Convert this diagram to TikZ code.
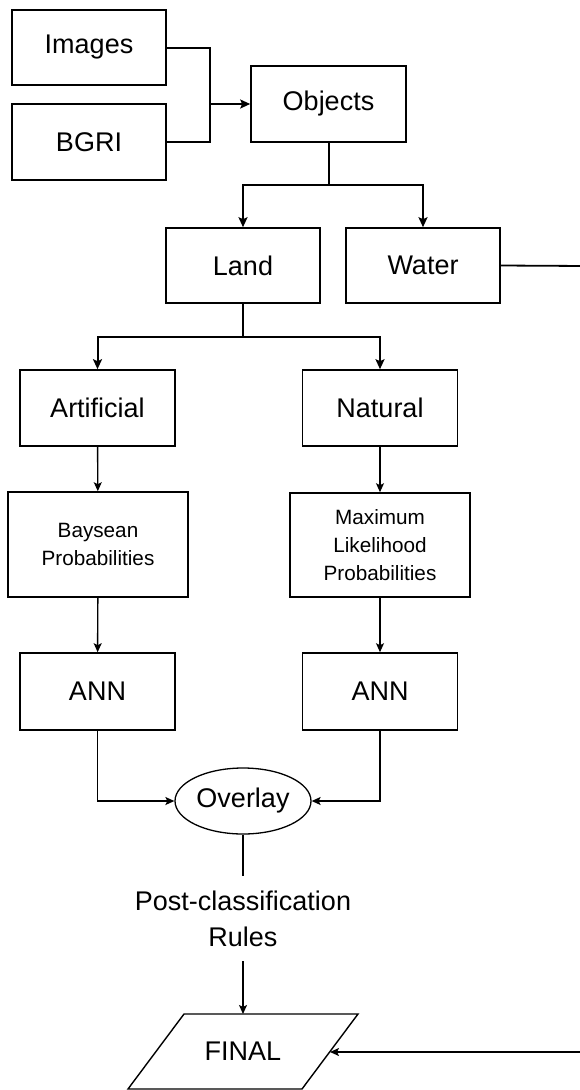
\documentclass[tikz,border=0pt]{standalone}
\usepackage{fontspec}
\setmainfont{Liberation Sans}
\usetikzlibrary{arrows.meta,shapes.geometric}
\begin{document}
\begin{tikzpicture}[x=1pt,y=-1pt,
  box/.style={draw,line width=1.6pt,rectangle,inner sep=0pt,font=\fontsize{27}{32}\selectfont},
  smallbox/.style={draw,line width=1.6pt,rectangle,inner sep=0pt,align=center,font=\fontsize{20.7}{28}\selectfont},
  conn/.style={line width=2pt},
  arr/.style={line width=2pt,-{Stealth[length=10pt,width=9pt,inset=2pt]}},
  arrthin/.style={line width=1.4pt,-{Stealth[length=9pt,width=8pt,inset=2pt]}}]
\useasboundingbox (0,0) rectangle (579,1090);
\fill[white] (0,0) rectangle (579,1090);
% top boxes
\node[box,minimum width=154pt,minimum height=75pt] (images) at (89,47.5) {Images};
\node[box,minimum width=154pt,minimum height=76pt] (bgri) at (89,142) {BGRI};
\node[box,minimum width=155pt,minimum height=76pt] (objects) at (328.5,104) {Objects};
\node[box,minimum width=154pt,minimum height=75pt] (land) at (243,265.5) {Land};
\node[box,minimum width=154pt,minimum height=75pt] (water) at (423,265.5) {Water};
\node[box,minimum width=155pt,minimum height=76pt] (artificial) at (97.5,408) {Artificial};
\node[box,minimum width=155pt,minimum height=76pt] (natural) at (380,408) {Natural};
\node[smallbox,minimum width=180pt,minimum height=105pt] (baysean) at (98,544.5) {Baysean\\Probabilities};
\node[smallbox,minimum width=180pt,minimum height=104pt] (maxlik) at (380,545) {Maximum\\Likelihood\\Probabilities};
\node[box,minimum width=155pt,minimum height=77pt] (ann1) at (97.5,691.5) {ANN};
\node[box,minimum width=155pt,minimum height=77pt] (ann2) at (380,691.5) {ANN};
\node[draw,ellipse,line width=1.3pt,inner sep=0pt,minimum width=136pt,minimum height=66pt,font=\fontsize{27}{32}\selectfont] (overlay) at (243,801) {Overlay};
\node[align=center,inner xsep=0pt,inner ysep=14.5pt,font=\fontsize{27}{35.7}\selectfont] (post) at (243,918.8) {Post-classification\\Rules};
% FINAL parallelogram
\coordinate (ftl) at (184,1014);
\coordinate (ftr) at (358,1014);
\coordinate (fbr) at (302,1089);
\coordinate (fbl) at (128,1089);
\draw[line width=1.4pt,line join=miter] (ftl) -- (ftr) -- (fbr) -- (fbl) -- cycle;
\node[inner sep=0pt,font=\fontsize{27}{32}\selectfont] (final) at (243,1051.5) {FINAL};
\coordinate (ftop) at (243,1014);
\coordinate (fright) at (330,1052);
% connectors
\coordinate (join) at (209,104);
\coordinate (wr) at (585,266);
\draw[conn] (images.east) -- ++(43,0) |- (bgri.east);
\draw[arr] (join) -- (objects.west);
\draw[arr] (objects.south) -- ++(0,42) -| (land.north);
\draw[arr] (objects.south) -- ++(0,42) -| (water.north);
\draw[arr] (land.south) -- ++(0,33) -| (artificial.north);
\draw[arr] (land.south) -- ++(0,33) -| (natural.north);
\draw[arrthin] (artificial) -- (baysean);
\draw[arrthin] (natural) -- (maxlik);
\draw[arrthin] (baysean) -- (ann1);
\draw[arrthin] (maxlik) -- (ann2);
\draw[arrthin] (ann1.south) |- (overlay.west);
\draw[arrthin] (ann2.south) |- (overlay.east);
\draw[line width=1.4pt] (overlay) -- (post);
\draw[arrthin] (post) -- (ftop);
\draw[line width=1.8pt,-{Stealth[length=9pt,width=8pt,inset=2pt]}] (water.east) -- (wr) |- (fright);
\end{tikzpicture}
\end{document}
